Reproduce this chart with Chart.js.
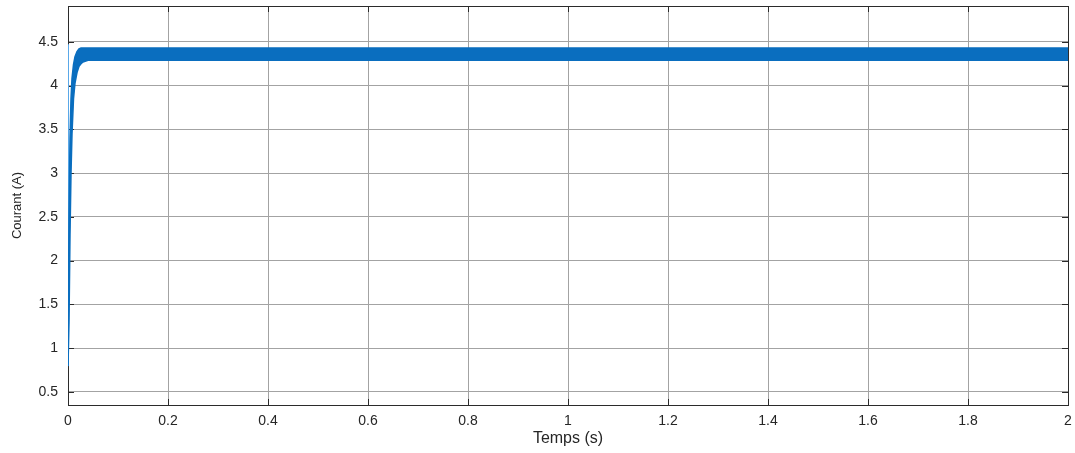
<!DOCTYPE html>
<html lang="fr">
<head>
    <meta charset="UTF-8">
    <title>Courant</title>
    <script src="https://cdn.jsdelivr.net/npm/chart.js"></script>
    <style>
        body {
            margin: 0;
            background: #ffffff;
        }
        canvas {
            display: block;
        }
    </style>
</head>
<body>

<canvas id="courantChart" width="1075" height="453"></canvas>

<script>
    // time points (s) for the envelope of the current ripple
    const tEnv = [0, 0.002, 0.004, 0.006, 0.008, 0.011, 0.014, 0.018, 0.022, 0.026, 0.03, 0.04,
                  0.3, 0.6, 0.9, 1.2, 1.5, 1.8, 2];
    // upper and lower edge of the ripple band (A)
    const upperEnv = [0.8, 2.5, 3.4, 3.85, 4.08, 4.24, 4.33, 4.39, 4.42, 4.43, 4.43, 4.43,
                      4.43, 4.43, 4.43, 4.43, 4.43, 4.43, 4.43];
    const lowerEnv = [0.8, 1.3, 2.3, 3.0, 3.45, 3.85, 4.03, 4.15, 4.22, 4.25, 4.27, 4.29,
                      4.29, 4.29, 4.29, 4.29, 4.29, 4.29, 4.29];
    // first switching spike at start-up
    const spikeT = [0, 0.0006, 0.0014];
    const spikeY = [0.8, 4.47, 3.2];

    const xTicks = [0, 0.2, 0.4, 0.6, 0.8, 1, 1.2, 1.4, 1.6, 1.8, 2];
    const yTicks = [0.5, 1, 1.5, 2, 2.5, 3, 3.5, 4, 4.5];

    const blue = '#0a6ebf';
    const toPts = (xs, ys) => xs.map((x, i) => ({ x: x, y: ys[i] }));

    // matlab style box with inward ticks, under the curve
    const boxPlugin = {
        id: 'box',
        beforeDatasetsDraw(chart) {
            const ctx = chart.ctx;
            const a = chart.chartArea;
            const xs = chart.scales.x;
            const ys = chart.scales.y;
            ctx.save();
            ctx.strokeStyle = '#2b2b2b';
            ctx.lineWidth = 1;
            ctx.beginPath();
            xTicks.forEach(v => {
                const px = Math.round(xs.getPixelForValue(v)) + 0.5;
                ctx.moveTo(px, a.bottom); ctx.lineTo(px, a.bottom - 6);
                ctx.moveTo(px, a.top); ctx.lineTo(px, a.top + 6);
            });
            yTicks.forEach(v => {
                const py = Math.round(ys.getPixelForValue(v)) + 0.5;
                ctx.moveTo(a.left, py); ctx.lineTo(a.left + 6, py);
                ctx.moveTo(a.right, py); ctx.lineTo(a.right - 6, py);
            });
            ctx.stroke();
            ctx.strokeRect(Math.round(a.left) + 0.5, Math.round(a.top) + 0.5,
                           Math.round(a.right - a.left), Math.round(a.bottom - a.top));
            ctx.restore();
        }
    };

    const tickFont = { family: 'Liberation Sans, Arial, sans-serif', size: 14 };

    new Chart(document.getElementById('courantChart').getContext('2d'), {
        type: 'line',
        data: {
            datasets: [
                {
                    data: toPts(tEnv, upperEnv),
                    borderColor: blue,
                    borderWidth: 1.5,
                    pointRadius: 0,
                    fill: false,
                    tension: 0
                },
                {
                    data: toPts(tEnv, lowerEnv),
                    borderColor: blue,
                    borderWidth: 1.5,
                    backgroundColor: blue,
                    pointRadius: 0,
                    fill: '-1',
                    tension: 0
                },
                {
                    data: toPts(spikeT, spikeY),
                    borderColor: '#5aa8e8',
                    borderWidth: 1,
                    pointRadius: 0,
                    fill: false,
                    tension: 0
                }
            ]
        },
        options: {
            responsive: false,
            animation: false,
            layout: {
                padding: { top: 6, right: 7, left: 0, bottom: 0 }
            },
            plugins: {
                legend: { display: false },
                tooltip: { enabled: false }
            },
            scales: {
                x: {
                    type: 'linear',
                    min: 0,
                    max: 2,
                    afterBuildTicks: s => { s.ticks = xTicks.map(v => ({ value: v })); },
                    afterFit: s => { s.height = 48; s.paddingLeft = 0; s.paddingRight = 0; },
                    grid: { color: '#a3a3a3', drawTicks: false },
                    border: { display: false },
                    ticks: {
                        padding: 8,
                        color: '#262626',
                        font: tickFont,
                        maxRotation: 0,
                        callback: v => String(Math.round(v * 10) / 10)
                    },
                    title: {
                        display: true,
                        text: 'Temps (s)',
                        color: '#262626',
                        font: { family: 'Liberation Sans, Arial, sans-serif', size: 16 },
                        padding: { top: 0, bottom: 5 }
                    }
                },
                y: {
                    type: 'linear',
                    min: 0.35,
                    max: 4.91,
                    afterBuildTicks: s => { s.ticks = yTicks.map(v => ({ value: v })); },
                    afterFit: s => { s.width = 68; s.paddingTop = 0; s.paddingBottom = 0; },
                    grid: { color: '#a3a3a3', drawTicks: false },
                    border: { display: false },
                    ticks: {
                        padding: 10,
                        color: '#262626',
                        font: tickFont,
                        callback: v => String(Math.round(v * 10) / 10)
                    },
                    title: {
                        display: true,
                        text: 'Courant (A)',
                        color: '#262626',
                        font: { family: 'Liberation Sans, Arial, sans-serif', size: 13 },
                        padding: { top: 10, bottom: 0 }
                    }
                }
            }
        },
        plugins: [boxPlugin]
    });
</script>

</body>
</html>
